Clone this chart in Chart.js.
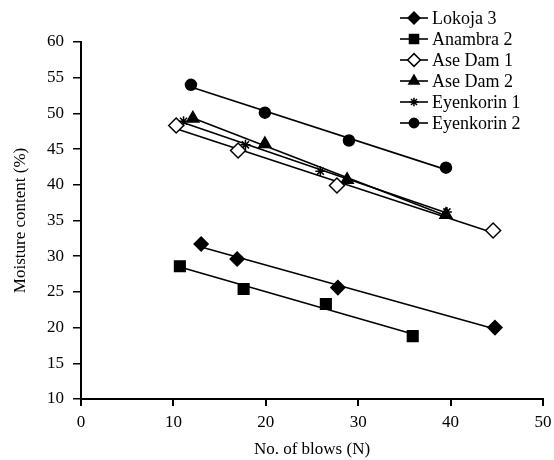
<!DOCTYPE html>
<html>
<head>
<meta charset="utf-8">
<script src="https://cdn.jsdelivr.net/npm/chart.js@4/dist/chart.umd.min.js"></script>
<style>
  html, body { margin: 0; padding: 0; background: #fff; }
  #wrap { width: 554px; height: 460px; position: relative; }
</style>
</head>
<body>
<div id="wrap"><canvas id="myChart"></canvas></div>
<script>
// series names (legend order)
const seriesNames = ['Lokoja 3', 'Anambra 2', 'Ase Dam 1', 'Ase Dam 2', 'Eyenkorin 1', 'Eyenkorin 2'];

// no. of blows (x) and moisture content (y)
const lokojaX = [13.0, 16.9, 27.8, 44.8];
const lokojaY = [31.7, 29.6, 25.6, 20.0];
const anambraX = [10.7, 17.6, 26.5, 35.9];
const anambraY = [28.6, 25.4, 23.3, 18.8];
const aseDam1X = [10.3, 17.0, 27.7, 44.6];
const aseDam1Y = [48.3, 44.8, 39.9, 33.6];
const aseDam2X = [12.1, 19.9, 28.8, 39.5];
const aseDam2Y = [49.3, 45.7, 40.7, 35.8];
const eyenkorin1X = [11.1, 17.8, 25.9, 39.6];
const eyenkorin1Y = [48.9, 45.6, 41.9, 36.2];
const eyenkorin2X = [11.9, 19.9, 29.0, 39.5];
const eyenkorin2Y = [54.0, 50.1, 46.2, 42.4];

// axis ticks
const xTicks = [0, 10, 20, 30, 40, 50];
const yTicks = [10, 15, 20, 25, 30, 35, 40, 45, 50, 55, 60];

const FONT = "'Liberation Serif', 'Times New Roman', serif";

const allX = [lokojaX, anambraX, aseDam1X, aseDam2X, eyenkorin1X, eyenkorin2X];
const allY = [lokojaY, anambraY, aseDam1Y, aseDam2Y, eyenkorin1Y, eyenkorin2Y];

// marker look per series
const markers = [
  { style: 'rectRot', radius: 7, fill: '#000' },
  { style: 'rect', radius: 7.5, fill: '#000' },
  { style: 'rectRot', radius: 7.5, fill: '#fff' },
  { style: 'triangle', radius: 7, fill: '#000' },
  { style: 'star', radius: 5, fill: '#000' },
  { style: 'circle', radius: 5.5, fill: '#000' },
];

// linear trend line between first and last x
function trend(xs, ys) {
  const n = xs.length;
  const mx = xs.reduce((a, b) => a + b, 0) / n;
  const my = ys.reduce((a, b) => a + b, 0) / n;
  let sxy = 0, sxx = 0;
  for (let i = 0; i < n; i++) {
    sxy += (xs[i] - mx) * (ys[i] - my);
    sxx += (xs[i] - mx) * (xs[i] - mx);
  }
  const b = sxy / sxx;
  const a = my - b * mx;
  const x0 = Math.min(...xs), x1 = Math.max(...xs);
  return [{ x: x0, y: a + b * x0 }, { x: x1, y: a + b * x1 }];
}

const pointSets = seriesNames.map((name, i) => ({
  label: name,
  data: allX[i].map((x, j) => ({ x: x, y: allY[i][j] })),
  showLine: false,
  pointStyle: markers[i].style,
  pointRadius: markers[i].radius,
  pointBackgroundColor: markers[i].fill,
  pointBorderColor: '#000',
  pointBorderWidth: 1.5,
}));

const lineSets = seriesNames.map((name, i) => ({
  label: name + ' trend',
  data: trend(allX[i], allY[i]),
  showLine: true,
  borderColor: '#000',
  borderWidth: 1.6,
  pointRadius: 0,
}));

// legend drawn over the top right of the plot
const legendPlugin = {
  id: 'customLegend',
  afterDraw(chart) {
    const ctx = chart.ctx;
    ctx.save();
    seriesNames.forEach((name, i) => {
      const y = 18 + i * 21;
      ctx.strokeStyle = '#000';
      ctx.lineWidth = 1.6;
      ctx.beginPath();
      ctx.moveTo(400, y);
      ctx.lineTo(428, y);
      ctx.stroke();
      ctx.fillStyle = markers[i].fill;
      ctx.lineWidth = 1.5;
      Chart.helpers.drawPoint(ctx, {
        pointStyle: markers[i].style,
        radius: markers[i].radius * 0.85,
        rotation: 0,
        borderWidth: 1.5,
      }, 414, y);
      ctx.fillStyle = '#000';
      ctx.font = '18px ' + FONT;
      ctx.textBaseline = 'middle';
      ctx.textAlign = 'left';
      ctx.fillText(name, 432, y + 1);
    });
    ctx.restore();
  },
};

const config = {
  type: 'scatter',
  data: { datasets: pointSets.concat(lineSets) },
  options: {
    responsive: true,
    maintainAspectRatio: false,
    animation: false,
    layout: { padding: { left: 0, right: 11, top: 42, bottom: 0 } },
    plugins: {
      legend: { display: false },
      tooltip: { enabled: false },
    },
    scales: {
      x: {
        type: 'linear',
        min: 0,
        max: 50,
        afterBuildTicks(scale) {
          scale.ticks = xTicks.map(v => ({ value: v }));
        },
        afterFit(scale) {
          scale.height = 61;
          scale.paddingLeft = 0;
          scale.paddingRight = 0;
        },
        ticks: { color: '#000', padding: 6, maxRotation: 0, font: { family: FONT, size: 17 } },
        grid: { drawOnChartArea: false, drawTicks: true, tickLength: 7, color: '#000', lineWidth: 2 },
        border: { display: true, color: '#000', width: 2 },
        title: {
          display: true,
          text: 'No. of blows (N)',
          color: '#000',
          font: { family: FONT, size: 17 },
          padding: { top: 2, bottom: 0 },
        },
      },
      y: {
        type: 'linear',
        min: 10,
        max: 60,
        afterBuildTicks(scale) {
          scale.ticks = yTicks.map(v => ({ value: v }));
        },
        afterFit(scale) {
          scale.width = 81;
          scale.paddingTop = 0;
          scale.paddingBottom = 0;
        },
        ticks: { color: '#000', padding: 9, font: { family: FONT, size: 17 } },
        grid: { drawOnChartArea: false, drawTicks: true, tickLength: 8, color: '#000', lineWidth: 1.5 },
        border: { display: true, color: '#000', width: 2 },
        title: {
          display: true,
          text: 'Moisture content (%)',
          color: '#000',
          font: { family: FONT, size: 17 },
          padding: { top: 10, bottom: 0 },
        },
      },
    },
  },
  plugins: [legendPlugin],
};

const myChart = new Chart(document.getElementById('myChart'), config);
</script>
</body>
</html>
